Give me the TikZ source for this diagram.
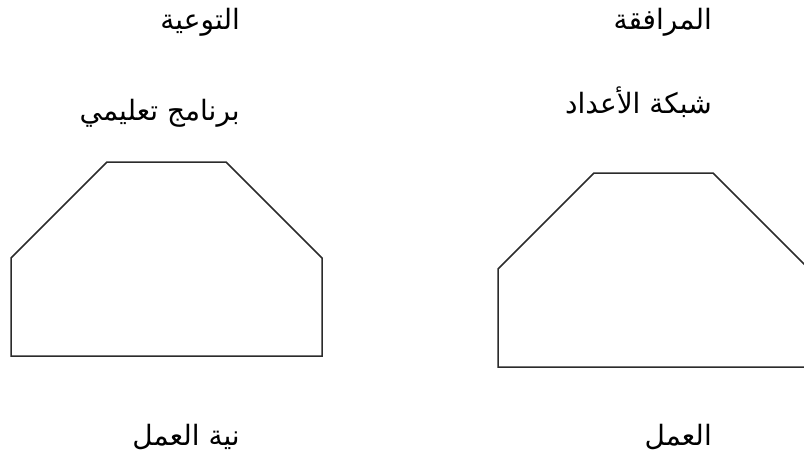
\documentclass[tikz,border=0pt]{standalone}
\usepackage{fontspec}
\usepackage{tikz}
\usetikzlibrary{positioning}
\newfontfamily\arabicfont[Script=Arabic]{DejaVu Sans}
\TeXXeTstate=1
\definecolor{shapeLine}{HTML}{2B2B2B}

\begin{document}
\begin{tikzpicture}[x=1pt, y=-1pt, font=\arabicfont\fontsize{28}{33}\selectfont]
  \useasboundingbox (0,0) rectangle (804,461);
  \clip (0,0) rectangle (804,461);
  \foreach \x/\y in {11/162, 498/173}{
    \draw[shapeLine, line width=1.5pt, line join=miter]
      (\x,\y+194) -- (\x,\y+96) -- (\x+96,\y) -- (\x+215,\y)
      -- (\x+311,\y+96) -- (\x+311,\y+194) -- cycle;
  }
  \foreach \name/\x/\y/\txt in {
    awareness/240/29/{التوعية},
    support/712/29/{المرافقة},
    program/240/120/{برنامج تعليمي},
    network/712/113/{شبكة الأعداد},
    intent/240/445/{نية العمل},
    action/712/445/{العمل}}{
    \node[anchor=base east, inner sep=0pt] (\name) at (\x,\y) {\beginR\txt\endR};
  }
\end{tikzpicture}
\end{document}
